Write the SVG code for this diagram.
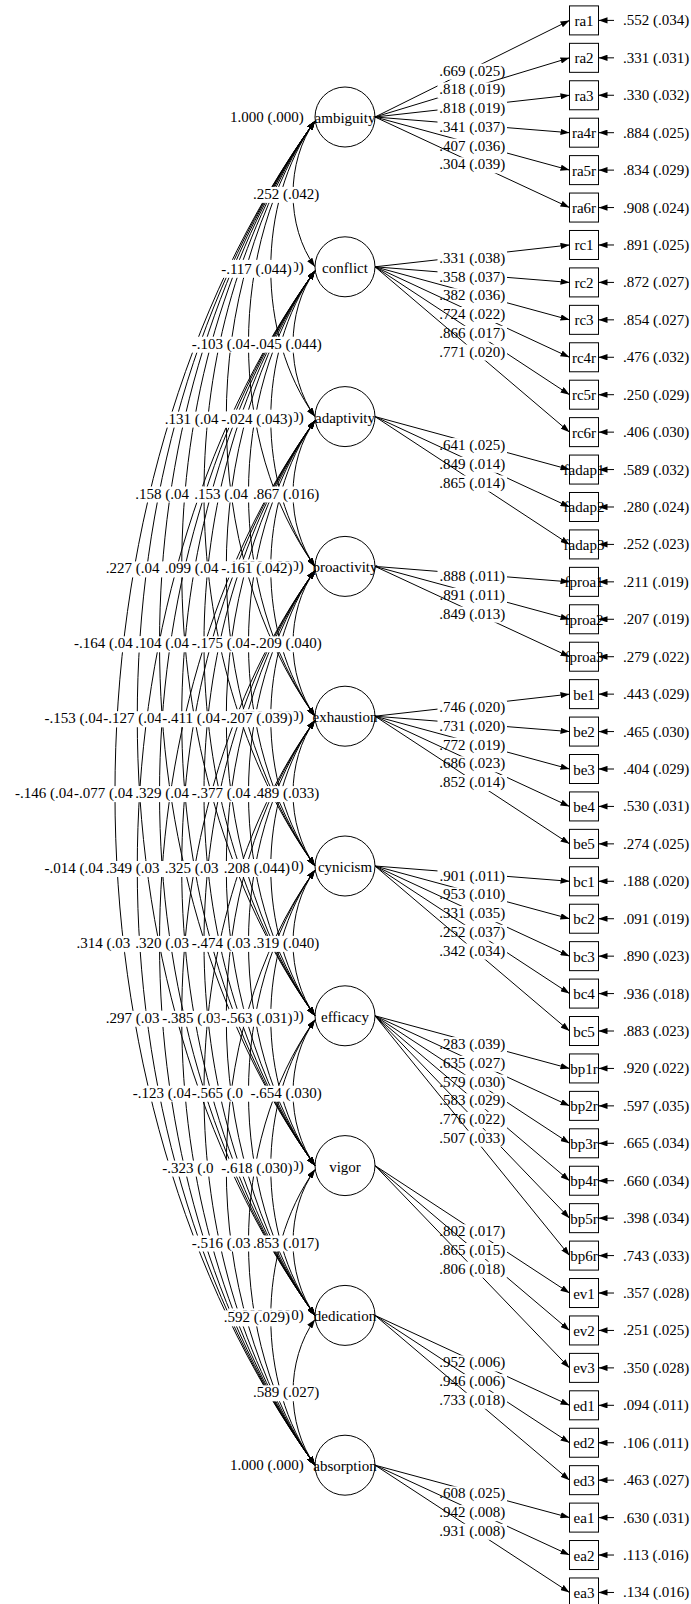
<svg xmlns="http://www.w3.org/2000/svg" width="691" height="1604" viewBox="0 0 691 1604">
<style>
text{font-family:"Liberation Serif","Times New Roman",serif;font-size:15px;fill:#000}
.m{text-anchor:middle}
.nd circle,.nd rect{fill:#fff;stroke:#000;stroke-width:1}
.cv{fill:none;stroke:#000;stroke-width:1;marker-start:url(#ah);marker-end:url(#ah)}
.ld{fill:none;stroke:#000;stroke-width:1;marker-end:url(#ah)}
.bg{fill:#fff}
</style>
<defs><marker id="ah" viewBox="0 0 10 7" refX="10" refY="3.5" markerWidth="9" markerHeight="6.3" markerUnits="userSpaceOnUse" orient="auto-start-reverse"><path d="M0,0L10,3.5L0,7z" fill="#000"/></marker></defs>
<rect width="691" height="1604" fill="#fff"/>
<g id="nodes" class="nd">
<g id="ambiguity"><circle cx="345" cy="117" r="30"/><text class="m" x="345" y="123">ambiguity</text></g>
<g id="conflict"><circle cx="345" cy="266.8" r="30"/><text class="m" x="345" y="272.8">conflict</text></g>
<g id="adaptivity"><circle cx="345" cy="416.6" r="30"/><text class="m" x="345" y="422.6">adaptivity</text></g>
<g id="proactivity"><circle cx="345" cy="566.4" r="30"/><text class="m" x="345" y="572.4">proactivity</text></g>
<g id="exhaustion"><circle cx="345" cy="716.2" r="30"/><text class="m" x="345" y="722.2">exhaustion</text></g>
<g id="cynicism"><circle cx="345" cy="866" r="30"/><text class="m" x="345" y="872">cynicism</text></g>
<g id="efficacy"><circle cx="345" cy="1015.8" r="30"/><text class="m" x="345" y="1021.8">efficacy</text></g>
<g id="vigor"><circle cx="345" cy="1165.6" r="30"/><text class="m" x="345" y="1171.6">vigor</text></g>
<g id="dedication"><circle cx="345" cy="1315.4" r="30"/><text class="m" x="345" y="1321.4">dedication</text></g>
<g id="absorption"><circle cx="345" cy="1465.2" r="30"/><text class="m" x="345" y="1471.2">absorption</text></g>
<g id="ra1"><rect x="569.5" y="5.9" width="29" height="29"/><text class="m" x="584" y="25.9">ra1</text></g>
<g id="ra2"><rect x="569.5" y="43.33" width="29" height="29"/><text class="m" x="584" y="63.33">ra2</text></g>
<g id="ra3"><rect x="569.5" y="80.76" width="29" height="29"/><text class="m" x="584" y="100.76">ra3</text></g>
<g id="ra4r"><rect x="569.5" y="118.19" width="29" height="29"/><text class="m" x="584" y="138.19">ra4r</text></g>
<g id="ra5r"><rect x="569.5" y="155.62" width="29" height="29"/><text class="m" x="584" y="175.62">ra5r</text></g>
<g id="ra6r"><rect x="569.5" y="193.05" width="29" height="29"/><text class="m" x="584" y="213.05">ra6r</text></g>
<g id="rc1"><rect x="569.5" y="230.48" width="29" height="29"/><text class="m" x="584" y="250.48">rc1</text></g>
<g id="rc2"><rect x="569.5" y="267.91" width="29" height="29"/><text class="m" x="584" y="287.91">rc2</text></g>
<g id="rc3"><rect x="569.5" y="305.34" width="29" height="29"/><text class="m" x="584" y="325.34">rc3</text></g>
<g id="rc4r"><rect x="569.5" y="342.77" width="29" height="29"/><text class="m" x="584" y="362.77">rc4r</text></g>
<g id="rc5r"><rect x="569.5" y="380.2" width="29" height="29"/><text class="m" x="584" y="400.2">rc5r</text></g>
<g id="rc6r"><rect x="569.5" y="417.63" width="29" height="29"/><text class="m" x="584" y="437.63">rc6r</text></g>
<g id="fadap1"><rect x="569.5" y="455.06" width="29" height="29"/><text class="m" x="584" y="475.06">fadap1</text></g>
<g id="fadap2"><rect x="569.5" y="492.49" width="29" height="29"/><text class="m" x="584" y="512.49">fadap2</text></g>
<g id="fadap3"><rect x="569.5" y="529.92" width="29" height="29"/><text class="m" x="584" y="549.92">fadap3</text></g>
<g id="fproa1"><rect x="569.5" y="567.35" width="29" height="29"/><text class="m" x="584" y="587.35">fproa1</text></g>
<g id="fproa2"><rect x="569.5" y="604.78" width="29" height="29"/><text class="m" x="584" y="624.78">fproa2</text></g>
<g id="fproa3"><rect x="569.5" y="642.21" width="29" height="29"/><text class="m" x="584" y="662.21">fproa3</text></g>
<g id="be1"><rect x="569.5" y="679.64" width="29" height="29"/><text class="m" x="584" y="699.64">be1</text></g>
<g id="be2"><rect x="569.5" y="717.07" width="29" height="29"/><text class="m" x="584" y="737.07">be2</text></g>
<g id="be3"><rect x="569.5" y="754.5" width="29" height="29"/><text class="m" x="584" y="774.5">be3</text></g>
<g id="be4"><rect x="569.5" y="791.93" width="29" height="29"/><text class="m" x="584" y="811.93">be4</text></g>
<g id="be5"><rect x="569.5" y="829.36" width="29" height="29"/><text class="m" x="584" y="849.36">be5</text></g>
<g id="bc1"><rect x="569.5" y="866.79" width="29" height="29"/><text class="m" x="584" y="886.79">bc1</text></g>
<g id="bc2"><rect x="569.5" y="904.22" width="29" height="29"/><text class="m" x="584" y="924.22">bc2</text></g>
<g id="bc3"><rect x="569.5" y="941.65" width="29" height="29"/><text class="m" x="584" y="961.65">bc3</text></g>
<g id="bc4"><rect x="569.5" y="979.08" width="29" height="29"/><text class="m" x="584" y="999.08">bc4</text></g>
<g id="bc5"><rect x="569.5" y="1016.51" width="29" height="29"/><text class="m" x="584" y="1036.51">bc5</text></g>
<g id="bp1r"><rect x="569.5" y="1053.94" width="29" height="29"/><text class="m" x="584" y="1073.94">bp1r</text></g>
<g id="bp2r"><rect x="569.5" y="1091.37" width="29" height="29"/><text class="m" x="584" y="1111.37">bp2r</text></g>
<g id="bp3r"><rect x="569.5" y="1128.8" width="29" height="29"/><text class="m" x="584" y="1148.8">bp3r</text></g>
<g id="bp4r"><rect x="569.5" y="1166.23" width="29" height="29"/><text class="m" x="584" y="1186.23">bp4r</text></g>
<g id="bp5r"><rect x="569.5" y="1203.66" width="29" height="29"/><text class="m" x="584" y="1223.66">bp5r</text></g>
<g id="bp6r"><rect x="569.5" y="1241.09" width="29" height="29"/><text class="m" x="584" y="1261.09">bp6r</text></g>
<g id="ev1"><rect x="569.5" y="1278.52" width="29" height="29"/><text class="m" x="584" y="1298.52">ev1</text></g>
<g id="ev2"><rect x="569.5" y="1315.95" width="29" height="29"/><text class="m" x="584" y="1335.95">ev2</text></g>
<g id="ev3"><rect x="569.5" y="1353.38" width="29" height="29"/><text class="m" x="584" y="1373.38">ev3</text></g>
<g id="ed1"><rect x="569.5" y="1390.81" width="29" height="29"/><text class="m" x="584" y="1410.81">ed1</text></g>
<g id="ed2"><rect x="569.5" y="1428.24" width="29" height="29"/><text class="m" x="584" y="1448.24">ed2</text></g>
<g id="ed3"><rect x="569.5" y="1465.67" width="29" height="29"/><text class="m" x="584" y="1485.67">ed3</text></g>
<g id="ea1"><rect x="569.5" y="1503.1" width="29" height="29"/><text class="m" x="584" y="1523.1">ea1</text></g>
<g id="ea2"><rect x="569.5" y="1540.53" width="29" height="29"/><text class="m" x="584" y="1560.53">ea2</text></g>
<g id="ea3"><rect x="569.5" y="1577.96" width="29" height="29"/><text class="m" x="584" y="1597.96">ea3</text></g>
</g>
<g id="connectors">
<g id="covariances">
<path class="cv" d="M315 121C285.7 161.7 285.7 226.1 315 266.8"/>
<path class="cv" d="M315 270.8C285.7 311.5 285.7 375.9 315 416.6"/>
<path class="cv" d="M315 420.6C285.7 461.3 285.7 525.7 315 566.4"/>
<path class="cv" d="M315 570.4C285.7 611.1 285.7 675.5 315 716.2"/>
<path class="cv" d="M315 720.2C285.7 760.9 285.7 825.3 315 866"/>
<path class="cv" d="M315 870C285.7 910.7 285.7 975.1 315 1015.8"/>
<path class="cv" d="M315 1019.8C285.7 1060.5 285.7 1124.9 315 1165.6"/>
<path class="cv" d="M315 1169.6C285.7 1210.3 285.7 1274.7 315 1315.4"/>
<path class="cv" d="M315 1319.4C285.7 1360.1 285.7 1424.5 315 1465.2"/>
<path class="cv" d="M315 121C256 202.9 256 334.7 315 416.6"/>
<path class="cv" d="M315 270.8C256 352.7 256 484.5 315 566.4"/>
<path class="cv" d="M315 420.6C256 502.5 256 634.3 315 716.2"/>
<path class="cv" d="M315 570.4C256 652.3 256 784.1 315 866"/>
<path class="cv" d="M315 720.2C256 802.1 256 933.9 315 1015.8"/>
<path class="cv" d="M315 870C256 951.9 256 1083.7 315 1165.6"/>
<path class="cv" d="M315 1019.8C256 1101.7 256 1233.5 315 1315.4"/>
<path class="cv" d="M315 1169.6C256 1251.5 256 1383.3 315 1465.2"/>
<path class="cv" d="M315 121C226.3 244.2 226.3 443.2 315 566.4"/>
<path class="cv" d="M315 270.8C226.3 394 226.3 593 315 716.2"/>
<path class="cv" d="M315 420.6C226.3 543.8 226.3 742.8 315 866"/>
<path class="cv" d="M315 570.4C226.3 693.6 226.3 892.6 315 1015.8"/>
<path class="cv" d="M315 720.2C226.3 843.4 226.3 1042.4 315 1165.6"/>
<path class="cv" d="M315 870C226.3 993.2 226.3 1192.2 315 1315.4"/>
<path class="cv" d="M315 1019.8C226.3 1143 226.3 1342 315 1465.2"/>
<path class="cv" d="M315 121C196.7 285.4 196.7 551.8 315 716.2"/>
<path class="cv" d="M315 270.8C196.7 435.2 196.7 701.6 315 866"/>
<path class="cv" d="M315 420.6C196.7 585 196.7 851.4 315 1015.8"/>
<path class="cv" d="M315 570.4C196.7 734.8 196.7 1001.2 315 1165.6"/>
<path class="cv" d="M315 720.2C196.7 884.6 196.7 1151 315 1315.4"/>
<path class="cv" d="M315 870C196.7 1034.4 196.7 1300.8 315 1465.2"/>
<path class="cv" d="M315 121C167 326.6 167 660.4 315 866"/>
<path class="cv" d="M315 270.8C167 476.4 167 810.2 315 1015.8"/>
<path class="cv" d="M315 420.6C167 626.2 167 960 315 1165.6"/>
<path class="cv" d="M315 570.4C167 776 167 1109.8 315 1315.4"/>
<path class="cv" d="M315 720.2C167 925.8 167 1259.6 315 1465.2"/>
<path class="cv" d="M315 121C137.3 367.8 137.3 769 315 1015.8"/>
<path class="cv" d="M315 270.8C137.3 517.6 137.3 918.8 315 1165.6"/>
<path class="cv" d="M315 420.6C137.3 667.4 137.3 1068.6 315 1315.4"/>
<path class="cv" d="M315 570.4C137.3 817.2 137.3 1218.4 315 1465.2"/>
<path class="cv" d="M315 121C107.7 409 107.7 877.6 315 1165.6"/>
<path class="cv" d="M315 270.8C107.7 558.8 107.7 1027.4 315 1315.4"/>
<path class="cv" d="M315 420.6C107.7 708.6 107.7 1177.2 315 1465.2"/>
<path class="cv" d="M315 121C78 450.2 78 986.2 315 1315.4"/>
<path class="cv" d="M315 270.8C78 600 78 1136 315 1465.2"/>
<path class="cv" d="M315 121C48.3 491.4 48.3 1094.8 315 1465.2"/>
</g>
<g id="variance-labels">
<rect class="bg" x="228.5" y="110" width="76.75" height="16"/><text x="230" y="122">1.000 (.000)</text>
<rect class="bg" x="228.5" y="259.8" width="76.75" height="16"/><text x="230" y="271.8">1.000 (.000)</text>
<rect class="bg" x="228.5" y="409.6" width="76.75" height="16"/><text x="230" y="421.6">1.000 (.000)</text>
<rect class="bg" x="228.5" y="559.4" width="76.75" height="16"/><text x="230" y="571.4">1.000 (.000)</text>
<rect class="bg" x="228.5" y="709.2" width="76.75" height="16"/><text x="230" y="721.2">1.000 (.000)</text>
<rect class="bg" x="228.5" y="859" width="76.75" height="16"/><text x="230" y="871">1.000 (.000)</text>
<rect class="bg" x="228.5" y="1008.8" width="76.75" height="16"/><text x="230" y="1020.8">1.000 (.000)</text>
<rect class="bg" x="228.5" y="1158.6" width="76.75" height="16"/><text x="230" y="1170.6">1.000 (.000)</text>
<rect class="bg" x="228.5" y="1308.4" width="76.75" height="16"/><text x="230" y="1320.4">1.000 (.000)</text>
<rect class="bg" x="228.5" y="1458.2" width="76.75" height="16"/><text x="230" y="1470.2">1.000 (.000)</text>
</g>
<g id="covariance-labels">
<rect class="bg" x="251.6" y="186.9" width="69.25" height="16"/><text x="253.1" y="198.9">.252 (.042)</text>
<rect class="bg" x="219.65" y="261.8" width="74.25" height="16"/><text x="221.15" y="273.8">-.117 (.044)</text>
<rect class="bg" x="190.2" y="336.7" width="74.25" height="16"/><text x="191.7" y="348.7">-.103 (.04</text>
<rect class="bg" x="249.1" y="336.7" width="74.25" height="16"/><text x="250.6" y="348.7">-.045 (.044)</text>
<rect class="bg" x="163.25" y="411.6" width="69.25" height="16"/><text x="164.75" y="423.6">.131 (.04</text>
<rect class="bg" x="219.65" y="411.6" width="74.25" height="16"/><text x="221.15" y="423.6">-.024 (.043)</text>
<rect class="bg" x="133.8" y="486.5" width="69.25" height="16"/><text x="135.3" y="498.5">.158 (.04</text>
<rect class="bg" x="192.7" y="486.5" width="69.25" height="16"/><text x="194.2" y="498.5">.153 (.04</text>
<rect class="bg" x="251.6" y="486.5" width="69.25" height="16"/><text x="253.1" y="498.5">.867 (.016)</text>
<rect class="bg" x="104.35" y="561.4" width="69.25" height="16"/><text x="105.85" y="573.4">.227 (.04</text>
<rect class="bg" x="163.25" y="561.4" width="69.25" height="16"/><text x="164.75" y="573.4">.099 (.04</text>
<rect class="bg" x="219.65" y="561.4" width="74.25" height="16"/><text x="221.15" y="573.4">-.161 (.042)</text>
<rect class="bg" x="72.4" y="636.3" width="74.25" height="16"/><text x="73.9" y="648.3">-.164 (.04</text>
<rect class="bg" x="133.8" y="636.3" width="69.25" height="16"/><text x="135.3" y="648.3">.104 (.04</text>
<rect class="bg" x="190.2" y="636.3" width="74.25" height="16"/><text x="191.7" y="648.3">-.175 (.04</text>
<rect class="bg" x="249.1" y="636.3" width="74.25" height="16"/><text x="250.6" y="648.3">-.209 (.040)</text>
<rect class="bg" x="42.95" y="711.2" width="74.25" height="16"/><text x="44.45" y="723.2">-.153 (.04</text>
<rect class="bg" x="101.85" y="711.2" width="74.25" height="16"/><text x="103.35" y="723.2">-.127 (.04</text>
<rect class="bg" x="160.75" y="711.2" width="74.25" height="16"/><text x="162.25" y="723.2">-.411 (.04</text>
<rect class="bg" x="219.65" y="711.2" width="74.25" height="16"/><text x="221.15" y="723.2">-.207 (.039)</text>
<rect class="bg" x="13.5" y="786.1" width="74.25" height="16"/><text x="15" y="798.1">-.146 (.04</text>
<rect class="bg" x="72.4" y="786.1" width="74.25" height="16"/><text x="73.9" y="798.1">-.077 (.04</text>
<rect class="bg" x="133.8" y="786.1" width="69.25" height="16"/><text x="135.3" y="798.1">.329 (.04</text>
<rect class="bg" x="190.2" y="786.1" width="74.25" height="16"/><text x="191.7" y="798.1">-.377 (.04</text>
<rect class="bg" x="251.6" y="786.1" width="69.25" height="16"/><text x="253.1" y="798.1">.489 (.033)</text>
<rect class="bg" x="42.95" y="861" width="74.25" height="16"/><text x="44.45" y="873">-.014 (.04</text>
<rect class="bg" x="104.35" y="861" width="69.25" height="16"/><text x="105.85" y="873">.349 (.03</text>
<rect class="bg" x="163.25" y="861" width="69.25" height="16"/><text x="164.75" y="873">.325 (.03</text>
<rect class="bg" x="222.15" y="861" width="69.25" height="16"/><text x="223.65" y="873">.208 (.044)</text>
<rect class="bg" x="74.9" y="935.9" width="69.25" height="16"/><text x="76.4" y="947.9">.314 (.03</text>
<rect class="bg" x="133.8" y="935.9" width="69.25" height="16"/><text x="135.3" y="947.9">.320 (.03</text>
<rect class="bg" x="190.2" y="935.9" width="74.25" height="16"/><text x="191.7" y="947.9">-.474 (.03</text>
<rect class="bg" x="251.6" y="935.9" width="69.25" height="16"/><text x="253.1" y="947.9">.319 (.040)</text>
<rect class="bg" x="104.35" y="1010.8" width="69.25" height="16"/><text x="105.85" y="1022.8">.297 (.03</text>
<rect class="bg" x="160.75" y="1010.8" width="74.25" height="16"/><text x="162.25" y="1022.8">-.385 (.03</text>
<rect class="bg" x="219.65" y="1010.8" width="74.25" height="16"/><text x="221.15" y="1022.8">-.563 (.031)</text>
<rect class="bg" x="131.3" y="1085.7" width="74.25" height="16"/><text x="132.8" y="1097.7">-.123 (.04</text>
<rect class="bg" x="190.2" y="1085.7" width="74.25" height="16"/><text x="191.7" y="1097.7">-.565 (.0</text>
<rect class="bg" x="249.1" y="1085.7" width="74.25" height="16"/><text x="250.6" y="1097.7">-.654 (.030)</text>
<rect class="bg" x="160.75" y="1160.6" width="74.25" height="16"/><text x="162.25" y="1172.6">-.323 (.0</text>
<rect class="bg" x="219.65" y="1160.6" width="74.25" height="16"/><text x="221.15" y="1172.6">-.618 (.030)</text>
<rect class="bg" x="190.2" y="1235.5" width="74.25" height="16"/><text x="191.7" y="1247.5">-.516 (.03</text>
<rect class="bg" x="251.6" y="1235.5" width="69.25" height="16"/><text x="253.1" y="1247.5">.853 (.017)</text>
<rect class="bg" x="222.15" y="1310.4" width="69.25" height="16"/><text x="223.65" y="1322.4">.592 (.029)</text>
<rect class="bg" x="251.6" y="1385.3" width="69.25" height="16"/><text x="253.1" y="1397.3">.589 (.027)</text>
</g>
<g id="loadings">
<path class="ld" d="M375 117L569.5 20.4"/><rect class="bg" x="437.5" y="63.7" width="69.5" height="16"/><text class="m" x="472.25" y="75.7">.669 (.025)</text>
<path class="ld" d="M375 117L569.5 57.83"/><rect class="bg" x="437.5" y="82.4" width="69.5" height="16"/><text class="m" x="472.25" y="94.4">.818 (.019)</text>
<path class="ld" d="M375 117L569.5 95.26"/><rect class="bg" x="437.5" y="101.1" width="69.5" height="16"/><text class="m" x="472.25" y="113.1">.818 (.019)</text>
<path class="ld" d="M375 117L569.5 132.69"/><rect class="bg" x="437.5" y="119.8" width="69.5" height="16"/><text class="m" x="472.25" y="131.8">.341 (.037)</text>
<path class="ld" d="M375 117L569.5 170.12"/><rect class="bg" x="437.5" y="138.6" width="69.5" height="16"/><text class="m" x="472.25" y="150.6">.407 (.036)</text>
<path class="ld" d="M375 117L569.5 207.55"/><rect class="bg" x="437.5" y="157.3" width="69.5" height="16"/><text class="m" x="472.25" y="169.3">.304 (.039)</text>
<path class="ld" d="M375 266.8L569.5 244.98"/><rect class="bg" x="437.5" y="250.9" width="69.5" height="16"/><text class="m" x="472.25" y="262.9">.331 (.038)</text>
<path class="ld" d="M375 266.8L569.5 282.41"/><rect class="bg" x="437.5" y="269.6" width="69.5" height="16"/><text class="m" x="472.25" y="281.6">.358 (.037)</text>
<path class="ld" d="M375 266.8L569.5 319.84"/><rect class="bg" x="437.5" y="288.3" width="69.5" height="16"/><text class="m" x="472.25" y="300.3">.382 (.036)</text>
<path class="ld" d="M375 266.8L569.5 357.27"/><rect class="bg" x="437.5" y="307" width="69.5" height="16"/><text class="m" x="472.25" y="319">.724 (.022)</text>
<path class="ld" d="M375 266.8L569.5 394.7"/><rect class="bg" x="437.5" y="325.8" width="69.5" height="16"/><text class="m" x="472.25" y="337.8">.866 (.017)</text>
<path class="ld" d="M375 266.8L569.5 432.13"/><rect class="bg" x="437.5" y="344.5" width="69.5" height="16"/><text class="m" x="472.25" y="356.5">.771 (.020)</text>
<path class="ld" d="M375 416.6L569.5 469.56"/><rect class="bg" x="437.5" y="438.1" width="69.5" height="16"/><text class="m" x="472.25" y="450.1">.641 (.025)</text>
<path class="ld" d="M375 416.6L569.5 506.99"/><rect class="bg" x="437.5" y="456.8" width="69.5" height="16"/><text class="m" x="472.25" y="468.8">.849 (.014)</text>
<path class="ld" d="M375 416.6L569.5 544.42"/><rect class="bg" x="437.5" y="475.5" width="69.5" height="16"/><text class="m" x="472.25" y="487.5">.865 (.014)</text>
<path class="ld" d="M375 566.4L569.5 581.85"/><rect class="bg" x="437.5" y="569.1" width="69.5" height="16"/><text class="m" x="472.25" y="581.1">.888 (.011)</text>
<path class="ld" d="M375 566.4L569.5 619.28"/><rect class="bg" x="437.5" y="587.8" width="69.5" height="16"/><text class="m" x="472.25" y="599.8">.891 (.011)</text>
<path class="ld" d="M375 566.4L569.5 656.71"/><rect class="bg" x="437.5" y="606.6" width="69.5" height="16"/><text class="m" x="472.25" y="618.6">.849 (.013)</text>
<path class="ld" d="M375 716.2L569.5 694.14"/><rect class="bg" x="437.5" y="700.2" width="69.5" height="16"/><text class="m" x="472.25" y="712.2">.746 (.020)</text>
<path class="ld" d="M375 716.2L569.5 731.57"/><rect class="bg" x="437.5" y="718.9" width="69.5" height="16"/><text class="m" x="472.25" y="730.9">.731 (.020)</text>
<path class="ld" d="M375 716.2L569.5 769"/><rect class="bg" x="437.5" y="737.6" width="69.5" height="16"/><text class="m" x="472.25" y="749.6">.772 (.019)</text>
<path class="ld" d="M375 716.2L569.5 806.43"/><rect class="bg" x="437.5" y="756.3" width="69.5" height="16"/><text class="m" x="472.25" y="768.3">.686 (.023)</text>
<path class="ld" d="M375 716.2L569.5 843.86"/><rect class="bg" x="437.5" y="775" width="69.5" height="16"/><text class="m" x="472.25" y="787">.852 (.014)</text>
<path class="ld" d="M375 866L569.5 881.29"/><rect class="bg" x="437.5" y="868.6" width="69.5" height="16"/><text class="m" x="472.25" y="880.6">.901 (.011)</text>
<path class="ld" d="M375 866L569.5 918.72"/><rect class="bg" x="437.5" y="887.4" width="69.5" height="16"/><text class="m" x="472.25" y="899.4">.953 (.010)</text>
<path class="ld" d="M375 866L569.5 956.15"/><rect class="bg" x="437.5" y="906.1" width="69.5" height="16"/><text class="m" x="472.25" y="918.1">.331 (.035)</text>
<path class="ld" d="M375 866L569.5 993.58"/><rect class="bg" x="437.5" y="924.8" width="69.5" height="16"/><text class="m" x="472.25" y="936.8">.252 (.037)</text>
<path class="ld" d="M375 866L569.5 1031.01"/><rect class="bg" x="437.5" y="943.5" width="69.5" height="16"/><text class="m" x="472.25" y="955.5">.342 (.034)</text>
<path class="ld" d="M375 1015.8L569.5 1068.44"/><rect class="bg" x="437.5" y="1037.1" width="69.5" height="16"/><text class="m" x="472.25" y="1049.1">.283 (.039)</text>
<path class="ld" d="M375 1015.8L569.5 1105.87"/><rect class="bg" x="437.5" y="1055.8" width="69.5" height="16"/><text class="m" x="472.25" y="1067.8">.635 (.027)</text>
<path class="ld" d="M375 1015.8L569.5 1143.3"/><rect class="bg" x="437.5" y="1074.6" width="69.5" height="16"/><text class="m" x="472.25" y="1086.6">.579 (.030)</text>
<path class="ld" d="M375 1015.8L569.5 1180.73"/><rect class="bg" x="437.5" y="1093.3" width="69.5" height="16"/><text class="m" x="472.25" y="1105.3">.583 (.029)</text>
<path class="ld" d="M375 1015.8L569.5 1218.16"/><rect class="bg" x="437.5" y="1112" width="69.5" height="16"/><text class="m" x="472.25" y="1124">.776 (.022)</text>
<path class="ld" d="M375 1015.8L569.5 1255.59"/><rect class="bg" x="437.5" y="1130.7" width="69.5" height="16"/><text class="m" x="472.25" y="1142.7">.507 (.033)</text>
<path class="ld" d="M375 1165.6L569.5 1293.02"/><rect class="bg" x="437.5" y="1224.3" width="69.5" height="16"/><text class="m" x="472.25" y="1236.3">.802 (.017)</text>
<path class="ld" d="M375 1165.6L569.5 1330.45"/><rect class="bg" x="437.5" y="1243" width="69.5" height="16"/><text class="m" x="472.25" y="1255">.865 (.015)</text>
<path class="ld" d="M375 1165.6L569.5 1367.88"/><rect class="bg" x="437.5" y="1261.7" width="69.5" height="16"/><text class="m" x="472.25" y="1273.7">.806 (.018)</text>
<path class="ld" d="M375 1315.4L569.5 1405.31"/><rect class="bg" x="437.5" y="1355.4" width="69.5" height="16"/><text class="m" x="472.25" y="1367.4">.952 (.006)</text>
<path class="ld" d="M375 1315.4L569.5 1442.74"/><rect class="bg" x="437.5" y="1374.1" width="69.5" height="16"/><text class="m" x="472.25" y="1386.1">.946 (.006)</text>
<path class="ld" d="M375 1315.4L569.5 1480.17"/><rect class="bg" x="437.5" y="1392.8" width="69.5" height="16"/><text class="m" x="472.25" y="1404.8">.733 (.018)</text>
<path class="ld" d="M375 1465.2L569.5 1517.6"/><rect class="bg" x="437.5" y="1486.4" width="69.5" height="16"/><text class="m" x="472.25" y="1498.4">.608 (.025)</text>
<path class="ld" d="M375 1465.2L569.5 1555.03"/><rect class="bg" x="437.5" y="1505.1" width="69.5" height="16"/><text class="m" x="472.25" y="1517.1">.942 (.008)</text>
<path class="ld" d="M375 1465.2L569.5 1592.46"/><rect class="bg" x="437.5" y="1523.8" width="69.5" height="16"/><text class="m" x="472.25" y="1535.8">.931 (.008)</text>
</g>
<g id="residuals">
<path class="ld" d="M614 20.4H598.5"/><text x="623" y="25.4">.552 (.034)</text>
<path class="ld" d="M614 57.83H598.5"/><text x="623" y="62.83">.331 (.031)</text>
<path class="ld" d="M614 95.26H598.5"/><text x="623" y="100.26">.330 (.032)</text>
<path class="ld" d="M614 132.69H598.5"/><text x="623" y="137.69">.884 (.025)</text>
<path class="ld" d="M614 170.12H598.5"/><text x="623" y="175.12">.834 (.029)</text>
<path class="ld" d="M614 207.55H598.5"/><text x="623" y="212.55">.908 (.024)</text>
<path class="ld" d="M614 244.98H598.5"/><text x="623" y="249.98">.891 (.025)</text>
<path class="ld" d="M614 282.41H598.5"/><text x="623" y="287.41">.872 (.027)</text>
<path class="ld" d="M614 319.84H598.5"/><text x="623" y="324.84">.854 (.027)</text>
<path class="ld" d="M614 357.27H598.5"/><text x="623" y="362.27">.476 (.032)</text>
<path class="ld" d="M614 394.7H598.5"/><text x="623" y="399.7">.250 (.029)</text>
<path class="ld" d="M614 432.13H598.5"/><text x="623" y="437.13">.406 (.030)</text>
<path class="ld" d="M614 469.56H598.5"/><text x="623" y="474.56">.589 (.032)</text>
<path class="ld" d="M614 506.99H598.5"/><text x="623" y="511.99">.280 (.024)</text>
<path class="ld" d="M614 544.42H598.5"/><text x="623" y="549.42">.252 (.023)</text>
<path class="ld" d="M614 581.85H598.5"/><text x="623" y="586.85">.211 (.019)</text>
<path class="ld" d="M614 619.28H598.5"/><text x="623" y="624.28">.207 (.019)</text>
<path class="ld" d="M614 656.71H598.5"/><text x="623" y="661.71">.279 (.022)</text>
<path class="ld" d="M614 694.14H598.5"/><text x="623" y="699.14">.443 (.029)</text>
<path class="ld" d="M614 731.57H598.5"/><text x="623" y="736.57">.465 (.030)</text>
<path class="ld" d="M614 769H598.5"/><text x="623" y="774">.404 (.029)</text>
<path class="ld" d="M614 806.43H598.5"/><text x="623" y="811.43">.530 (.031)</text>
<path class="ld" d="M614 843.86H598.5"/><text x="623" y="848.86">.274 (.025)</text>
<path class="ld" d="M614 881.29H598.5"/><text x="623" y="886.29">.188 (.020)</text>
<path class="ld" d="M614 918.72H598.5"/><text x="623" y="923.72">.091 (.019)</text>
<path class="ld" d="M614 956.15H598.5"/><text x="623" y="961.15">.890 (.023)</text>
<path class="ld" d="M614 993.58H598.5"/><text x="623" y="998.58">.936 (.018)</text>
<path class="ld" d="M614 1031.01H598.5"/><text x="623" y="1036.01">.883 (.023)</text>
<path class="ld" d="M614 1068.44H598.5"/><text x="623" y="1073.44">.920 (.022)</text>
<path class="ld" d="M614 1105.87H598.5"/><text x="623" y="1110.87">.597 (.035)</text>
<path class="ld" d="M614 1143.3H598.5"/><text x="623" y="1148.3">.665 (.034)</text>
<path class="ld" d="M614 1180.73H598.5"/><text x="623" y="1185.73">.660 (.034)</text>
<path class="ld" d="M614 1218.16H598.5"/><text x="623" y="1223.16">.398 (.034)</text>
<path class="ld" d="M614 1255.59H598.5"/><text x="623" y="1260.59">.743 (.033)</text>
<path class="ld" d="M614 1293.02H598.5"/><text x="623" y="1298.02">.357 (.028)</text>
<path class="ld" d="M614 1330.45H598.5"/><text x="623" y="1335.45">.251 (.025)</text>
<path class="ld" d="M614 1367.88H598.5"/><text x="623" y="1372.88">.350 (.028)</text>
<path class="ld" d="M614 1405.31H598.5"/><text x="623" y="1410.31">.094 (.011)</text>
<path class="ld" d="M614 1442.74H598.5"/><text x="623" y="1447.74">.106 (.011)</text>
<path class="ld" d="M614 1480.17H598.5"/><text x="623" y="1485.17">.463 (.027)</text>
<path class="ld" d="M614 1517.6H598.5"/><text x="623" y="1522.6">.630 (.031)</text>
<path class="ld" d="M614 1555.03H598.5"/><text x="623" y="1560.03">.113 (.016)</text>
<path class="ld" d="M614 1592.46H598.5"/><text x="623" y="1597.46">.134 (.016)</text>
</g>
</g>
</svg>
